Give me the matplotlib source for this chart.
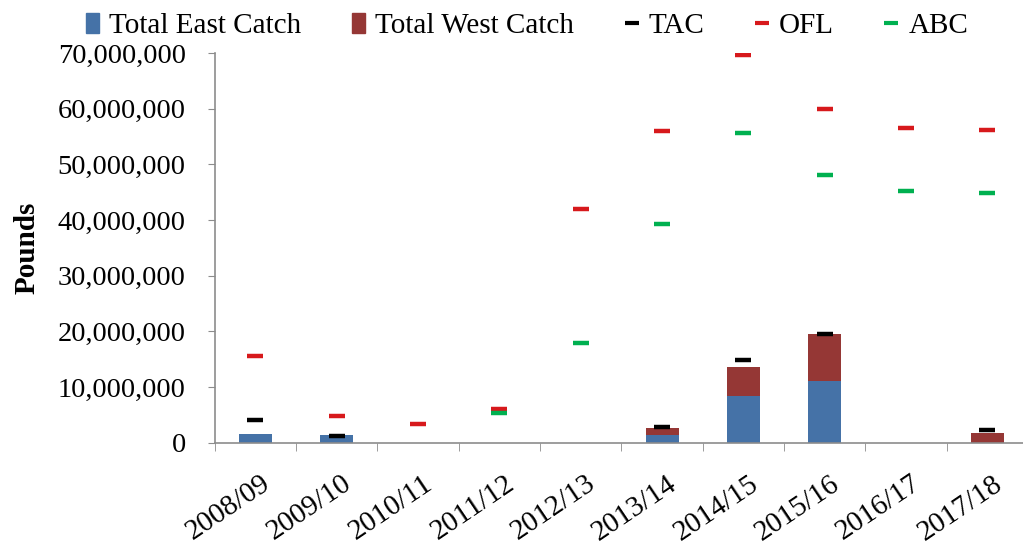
import numpy as np
import matplotlib.pyplot as plt
import matplotlib.transforms as mtransforms
from matplotlib.lines import Line2D
from matplotlib.patches import Patch
from matplotlib.ticker import FuncFormatter

plt.rcParams['font.family'] = ['Liberation Serif', 'DejaVu Serif']

seasons = ['2008/09', '2009/10', '2010/11', '2011/12', '2012/13',
           '2013/14', '2014/15', '2015/16', '2016/17', '2017/18']
east_catch = [1.6e6, 1.4e6, 0, 0, 0, 1.4e6, 8.4e6, 11.1e6, 0, 0]
west_catch = [0, 0, 0, 0, 0, 1.2e6, 5.2e6, 8.4e6, 0, 1.8e6]
tac = [4.1e6, 1.2e6, np.nan, np.nan, np.nan, 2.9e6, 14.9e6, 19.5e6, np.nan, 2.3e6]
ofl = [15.5e6, 4.9e6, 3.4e6, 6.1e6, 42.0e6, 56.0e6, 69.6e6, 60.0e6, 56.6e6, 56.1e6]
abc = [np.nan, np.nan, np.nan, 5.4e6, 17.9e6, 39.3e6, 55.6e6, 48.1e6, 45.2e6, 44.9e6]

c_east = '#4572A7'
c_west = '#953735'
c_ofl = '#D7191C'
c_abc = '#00B050'
grey = '#8C8C8C'

fig = plt.figure(figsize=(10.23, 5.46), dpi=100)
# axis runs past the right edge, like the original export
ax = fig.add_axes([0.210, 0.189, 0.795, 0.714])

x = np.arange(len(seasons))
ax.bar(x, east_catch, width=0.405, color=c_east, zorder=2)
ax.bar(x, west_catch, width=0.405, bottom=east_catch, color=c_west, zorder=2)

mk = dict(marker='_', markersize=11, mew=3.2, linestyle='none', zorder=3)
ax.plot(x, tac, color='black', **mk)
ax.plot(x, ofl, color=c_ofl, **mk)
ax.plot(x, abc, color=c_abc, **mk)

ax.set_xlim(-0.5, len(seasons) - 0.5)
ax.set_ylim(0, 70e6)
ax.set_yticks(np.arange(0, 70e6 + 1, 10e6))
ax.yaxis.set_major_formatter(FuncFormatter(lambda v, p: f'{int(v):,}'))
ax.tick_params(axis='y', labelsize=20.5, length=5, color=grey, direction='out', pad=16)

ax.set_xticks(x)
ax.set_xticklabels(seasons, rotation=34, ha='right', va='top',
                   rotation_mode='anchor', fontsize=21)
ax.set_xticks(np.arange(-0.5, len(seasons), 1), minor=True)
ax.tick_params(axis='x', which='major', length=0, pad=20)
ax.tick_params(axis='x', which='minor', length=6, color=grey)
shift = mtransforms.ScaledTranslation(0.05, 0, fig.dpi_scale_trans)
for lbl in ax.get_xticklabels():
    lbl.set_transform(lbl.get_transform() + shift)

for s in ['top', 'right']:
    ax.spines[s].set_visible(False)
for s in ['left', 'bottom']:
    ax.spines[s].set_color(grey)
    ax.spines[s].set_linewidth(1.2)

ax.set_ylabel('Pounds', fontsize=21, fontweight='bold', labelpad=12)

handles = [
    Patch(color=c_east, label='Total East Catch'),
    Patch(color=c_west, label='Total West Catch'),
    Line2D([], [], color='black', marker='_', markersize=10, mew=3, linestyle='none', label='TAC'),
    Line2D([], [], color=c_ofl, marker='_', markersize=10, mew=3, linestyle='none', label='OFL'),
    Line2D([], [], color=c_abc, marker='_', markersize=10, mew=3, linestyle='none', label='ABC'),
]
fig.legend(handles=handles, loc='upper center', bbox_to_anchor=(0.515, 1.025), ncol=5,
           frameon=False, fontsize=21, handlelength=0.45, handleheight=0.7,
           handletextpad=0.35, columnspacing=1.75)

fig.savefig('out.png', dpi=100)
